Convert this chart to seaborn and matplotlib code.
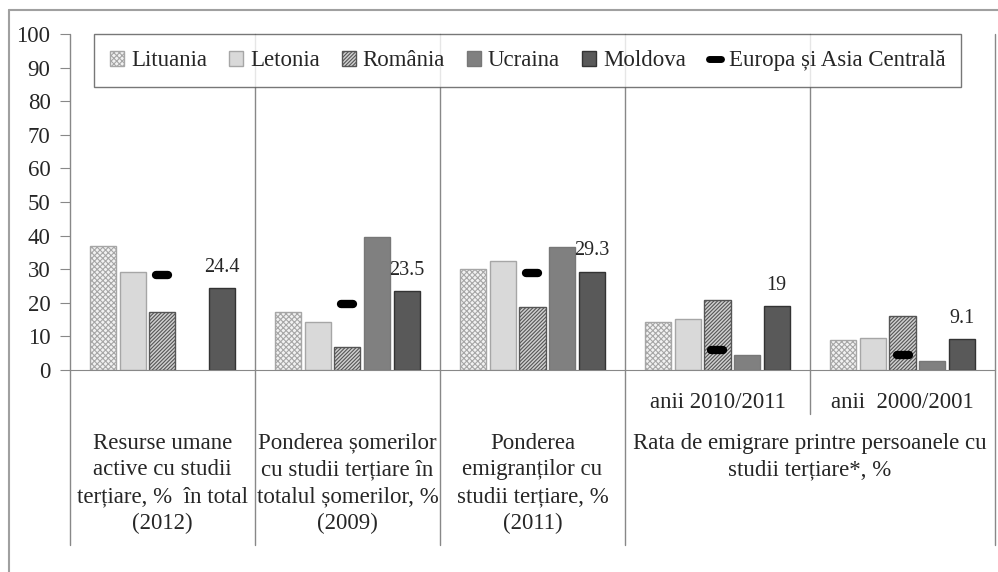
import numpy as np
import pandas as pd
import seaborn as sns
import matplotlib.pyplot as plt
import matplotlib.patches as mpatches
from matplotlib.lines import Line2D
from matplotlib.markers import MarkerStyle

# data
grupe = ['resurse', 'someri', 'emigranti', 'rata_2010', 'rata_2000']
tari = ['Lituania', 'Letonia', 'România', 'Ucraina', 'Moldova']
lituania = [36.8, 17.4, 30.1, 14.4, 8.8]
letonia = [29.2, 14.4, 32.4, 15.3, 9.5]
romania = [17.4, 6.8, 18.9, 20.7, 16.1]
ucraina = [np.nan, 39.7, 36.7, 4.4, 2.8]
moldova = [24.4, 23.5, 29.3, 19.0, 9.1]
europa = [28.2, 19.6, 28.9, 5.9, 4.6]

etichete_grupe = ['Resurse umane\nactive cu studii\nterțiare, %  în total\n(2012)',
                  'Ponderea șomerilor\ncu studii terțiare în\ntotalul șomerilor, %\n(2009)',
                  'Ponderea\nemigranților cu\nstudii terțiare, %\n(2011)']
eticheta_rata = 'Rata de emigrare printre persoanele cu\nstudii terțiare*, %'
etichete_ani = ['anii 2010/2011', 'anii  2000/2001']

valori = [lituania, letonia, romania, ucraina, moldova]
df = pd.DataFrame({
    'grup': grupe * len(tari),
    'tara': np.repeat(tari, len(grupe)),
    'valoare': np.concatenate(valori),
}).dropna()

sns.set_style('white')
plt.rcParams['font.family'] = ['Liberation Serif', 'DejaVu Serif']
plt.rcParams['hatch.linewidth'] = 0.8

fig = plt.figure(figsize=(9.98, 5.72), dpi=100)
ax = fig.add_axes([0.0701, 0.3531, 0.9269, 0.5874])

culori = ['#f2f2f2', '#d9d9d9', '#d0d0d0', '#808080', '#595959']
margini = ['#a6a6a6', '#a6a6a6', '#555555', '#777777', '#333333']
hasuri = ['xxxxxx', '', '/////////', '', '']

sns.barplot(data=df, x='grup', y='valoare', hue='tara', order=grupe, hue_order=tari,
            palette=culori, saturation=1, width=0.8, gap=0.12, legend=False, ax=ax)

for i, cont in enumerate(ax.containers):
    for bar in cont:
        bar.set_facecolor(culori[i])
        bar.set_edgecolor(margini[i])
        bar.set_hatch(hasuri[i])
        bar.set_linewidth(1.0)
ax.bar_label(ax.containers[-1], labels=[f'{v:g}' for v in moldova], padding=8, fontsize=14.5)

# Europa si Asia Centrala markers
liniuta = MarkerStyle('_', capstyle='round')
ax.plot(range(len(grupe)), europa, ls='none', marker=liniuta, ms=9, mew=6, color='black', zorder=4)

ax.set_xlim(-0.5, 4.5)
ax.set_ylim(0, 100)
ax.set_yticks(range(0, 101, 10))
ax.set_xticks([])
ax.set_xlabel('')
ax.set_ylabel('')
for s in ['top', 'right', 'left']:
    ax.spines[s].set_visible(False)
ax.spines['bottom'].set_color('#888888')
ax.tick_params(axis='y', direction='out', length=7, color='#888888', labelsize=16.5, pad=7, left=True)

# table lines below the axis
tr = ax.get_xaxis_transform()
for x in [-0.5, 0.5, 1.5, 2.5, 4.5]:
    ax.plot([x, x], [1, -0.521], transform=tr, color='#888888', lw=1, clip_on=False, zorder=1)
ax.plot([3.5, 3.5], [1, -0.131], transform=tr, color='#888888', lw=1, clip_on=False, zorder=1)

for i, t in enumerate(etichete_grupe):
    ax.text(i, -0.186, t, transform=tr, ha='center', va='top', fontsize=16.5, linespacing=1.36)
ax.text(3.5, -0.186, eticheta_rata, transform=tr, ha='center', va='top', fontsize=16.5, linespacing=1.36)
for i, t in enumerate(etichete_ani):
    ax.text(3 + i, -0.097, t, transform=tr, ha='center', va='center', fontsize=16.5)

# legend
handles = [mpatches.Patch(facecolor=culori[i], edgecolor=margini[i], hatch=hasuri[i]) for i in range(len(tari))]
handles.append(Line2D([], [], ls='none', marker=liniuta, ms=8, mew=5, color='black'))
etichete = tari + ['Europa și Asia Centrală']
leg = ax.legend(handles, etichete, ncol=6, loc='upper left', bbox_to_anchor=(0.014, 1.033, 0.962, 0),
                mode='expand', fontsize=16.5, frameon=True, fancybox=False, borderpad=0.7,
                handlelength=0.6, handleheight=0.6, handletextpad=0.3, columnspacing=1.0)
leg.get_frame().set_edgecolor('#555555')
leg.get_frame().set_linewidth(1)

# outer frame of the chart area
fig.add_artist(Line2D([0.009, 1.0], [0.9825, 0.9825], color='#a0a0a0', lw=1.5))
fig.add_artist(Line2D([0.009, 0.009], [0.0, 0.9825], color='#a0a0a0', lw=1.5))

fig.savefig('out.png', dpi=100)
